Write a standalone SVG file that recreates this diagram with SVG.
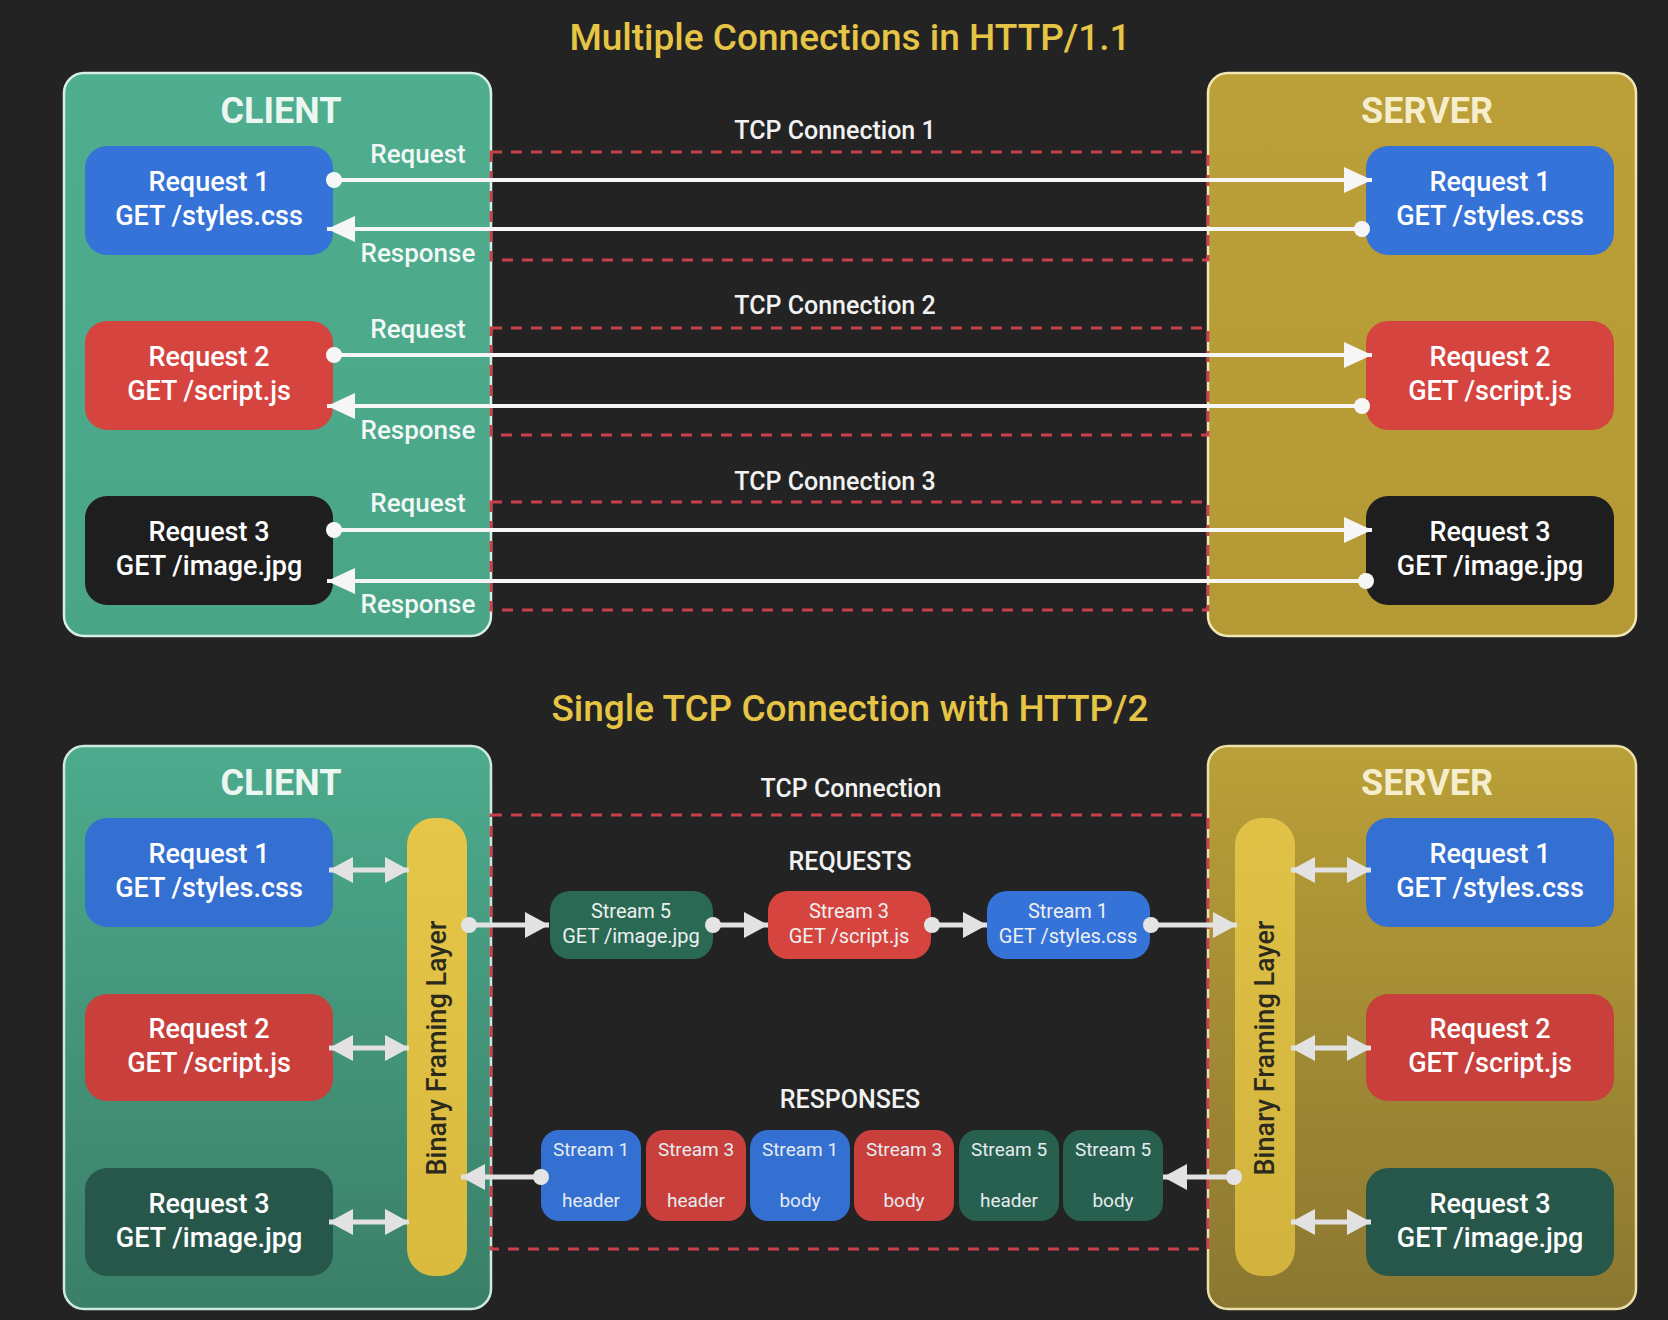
<svg xmlns="http://www.w3.org/2000/svg" width="1668" height="1320" viewBox="0 0 1668 1320">
<defs>
<style>
text{font-family:Roboto,"Liberation Sans",sans-serif;font-weight:500;text-anchor:middle}
.title{font-size:37px;fill:#E6C445}
.hdr{font-size:36px;font-weight:700}
.hc{fill:#ecf7f2}
.hs{fill:#f5edcc}
.bt{font-size:27px;fill:#ffffff}
.lbl{font-size:26px;fill:#f2f8f5}
.tcp{font-size:25px;fill:#f2f2f2}
.st{font-size:20px;fill:#eef0f0;font-weight:400}
.ch{font-size:19px;fill:#e6ecf0;font-weight:400}
.bfl{font-size:27px;fill:#2c2a1c}
.dash{fill:none;stroke:#c8404a;stroke-width:3;stroke-dasharray:11 9}
.wl{stroke:#f6f6f6;stroke-width:4;fill:none}
.gl{stroke:#e2e2e2;stroke-width:5;fill:none}
.dot{fill:#f6f6f6}
.gdot{fill:#e4e4e4}
</style>
<linearGradient id="gC" x1="0" y1="0" x2="0" y2="1"><stop offset="0" stop-color="#4fae8f"/><stop offset="1" stop-color="#4aa587"/></linearGradient>
<linearGradient id="gS" x1="0" y1="0" x2="0" y2="1"><stop offset="0" stop-color="#bb9f38"/><stop offset="1" stop-color="#b59935"/></linearGradient>
<linearGradient id="gC2" x1="0" y1="0" x2="0" y2="1"><stop offset="0" stop-color="#4dab8d"/><stop offset="1" stop-color="#3a7f67"/></linearGradient>
<linearGradient id="gS2" x1="0" y1="0" x2="0" y2="1"><stop offset="0" stop-color="#baa038"/><stop offset="1" stop-color="#8b7731"/></linearGradient>
<linearGradient id="gY" x1="0" y1="0" x2="0" y2="1"><stop offset="0" stop-color="#e5c648"/><stop offset="1" stop-color="#d9b93e"/></linearGradient>
<marker id="ah" markerUnits="userSpaceOnUse" markerWidth="30" markerHeight="28" refX="28" refY="13" orient="auto"><path d="M0,0 L28,13 L0,26 z" fill="#f6f6f6"/></marker>
<marker id="ag" markerUnits="userSpaceOnUse" markerWidth="26" markerHeight="28" refX="24" refY="13" orient="auto-start-reverse"><path d="M0,0 L24,13 L0,26 z" fill="#e2e2e2"/></marker>
</defs>
<rect x="0" y="0" width="1668" height="1320" fill="#232323"/>

<text class="title" x="850" y="50">Multiple Connections in HTTP/1.1</text>
<text class="title" x="850" y="721">Single TCP Connection with HTTP/2</text>

<!-- TOP SECTION -->
<g id="client1">
<rect x="64" y="73" width="427" height="563" rx="20" fill="url(#gC)" stroke="#d8efe6" stroke-width="2.5"/>
<text class="hdr hc" x="281" y="123">CLIENT</text>
</g>
<g id="server1">
<rect x="1208" y="73" width="428" height="563" rx="20" fill="url(#gS)" stroke="#f1e6b5" stroke-width="2.5"/>
<text class="hdr hs" x="1427" y="123">SERVER</text>
</g>

<g id="tcp1">
<rect class="dash" x="491" y="152" width="717" height="108"/>
<text class="tcp" x="835" y="139">TCP Connection 1</text>
</g>
<g id="tcp2">
<rect class="dash" x="491" y="328" width="717" height="107"/>
<text class="tcp" x="835" y="314">TCP Connection 2</text>
</g>
<g id="tcp3">
<rect class="dash" x="491" y="502" width="717" height="108"/>
<text class="tcp" x="835" y="490">TCP Connection 3</text>
</g>

<g id="c1r1"><rect x="85" y="146" width="248" height="109" rx="22" fill="#3673d8"/><text class="bt" x="209" y="191">Request 1</text><text class="bt" x="209" y="225">GET /styles.css</text></g>
<g id="c1r2"><rect x="85" y="321" width="248" height="109" rx="22" fill="#d6443f"/><text class="bt" x="209" y="366">Request 2</text><text class="bt" x="209" y="400">GET /script.js</text></g>
<g id="c1r3"><rect x="85" y="496" width="248" height="109" rx="22" fill="#1e1e1e"/><text class="bt" x="209" y="541">Request 3</text><text class="bt" x="209" y="575">GET /image.jpg</text></g>

<g id="s1r1"><rect x="1366" y="146" width="248" height="109" rx="22" fill="#3673d8"/><text class="bt" x="1490" y="191">Request 1</text><text class="bt" x="1490" y="225">GET /styles.css</text></g>
<g id="s1r2"><rect x="1366" y="321" width="248" height="109" rx="22" fill="#d6443f"/><text class="bt" x="1490" y="366">Request 2</text><text class="bt" x="1490" y="400">GET /script.js</text></g>
<g id="s1r3"><rect x="1366" y="496" width="248" height="109" rx="22" fill="#1e1e1e"/><text class="bt" x="1490" y="541">Request 3</text><text class="bt" x="1490" y="575">GET /image.jpg</text></g>

<g id="labels1">
<text class="lbl" x="418" y="163">Request</text>
<text class="lbl" x="418" y="262">Response</text>
<text class="lbl" x="418" y="338">Request</text>
<text class="lbl" x="418" y="439">Response</text>
<text class="lbl" x="418" y="512">Request</text>
<text class="lbl" x="418" y="613">Response</text>
</g>

<g id="connectors1">
<line class="wl" x1="334" y1="180" x2="1372" y2="180" marker-end="url(#ah)"/>
<circle class="dot" cx="334" cy="180" r="8"/>
<line class="wl" x1="1362" y1="229" x2="327" y2="229" marker-end="url(#ah)"/>
<circle class="dot" cx="1362" cy="229" r="8"/>
<line class="wl" x1="334" y1="355" x2="1372" y2="355" marker-end="url(#ah)"/>
<circle class="dot" cx="334" cy="355" r="8"/>
<line class="wl" x1="1362" y1="406" x2="327" y2="406" marker-end="url(#ah)"/>
<circle class="dot" cx="1362" cy="406" r="8"/>
<line class="wl" x1="334" y1="530" x2="1372" y2="530" marker-end="url(#ah)"/>
<circle class="dot" cx="334" cy="530" r="8"/>
<line class="wl" x1="1366" y1="581" x2="327" y2="581" marker-end="url(#ah)"/>
<circle class="dot" cx="1366" cy="581" r="8"/>
</g>

<!-- BOTTOM SECTION -->
<g id="client2">
<rect x="64" y="746" width="427" height="563" rx="20" fill="url(#gC2)" stroke="#cfe9df" stroke-width="2.5"/>
<text class="hdr hc" x="281" y="795">CLIENT</text>
</g>
<g id="server2">
<rect x="1208" y="746" width="428" height="563" rx="20" fill="url(#gS2)" stroke="#ece0a8" stroke-width="2.5"/>
<text class="hdr hs" x="1427" y="795">SERVER</text>
</g>

<g id="tcpmain">
<rect class="dash" x="491" y="815" width="717" height="434"/>
<text class="tcp" x="851" y="797">TCP Connection</text>
<text class="tcp" x="850" y="870">REQUESTS</text>
<text class="tcp" x="850" y="1108">RESPONSES</text>
</g>

<g id="bflC"><rect x="407" y="818" width="60" height="458" rx="27" fill="url(#gY)"/><text class="bfl" x="437" y="1057" transform="rotate(-90 437 1048)">Binary Framing Layer</text></g>
<g id="bflS"><rect x="1235" y="818" width="60" height="458" rx="27" fill="url(#gY)" opacity="0.9"/><text class="bfl" x="1265" y="1057" transform="rotate(-90 1265 1048)">Binary Framing Layer</text></g>

<g id="c2r1"><rect x="85" y="818" width="248" height="109" rx="22" fill="#3470d2"/><text class="bt" x="209" y="863">Request 1</text><text class="bt" x="209" y="897">GET /styles.css</text></g>
<g id="c2r2"><rect x="85" y="994" width="248" height="107" rx="22" fill="#c83f3b"/><text class="bt" x="209" y="1038">Request 2</text><text class="bt" x="209" y="1072">GET /script.js</text></g>
<g id="c2r3"><rect x="85" y="1168" width="248" height="108" rx="22" fill="#27574a"/><text class="bt" x="209" y="1213" fill="#e4ece8">Request 3</text><text class="bt" x="209" y="1247" fill="#e4ece8">GET /image.jpg</text></g>

<g id="s2r1"><rect x="1366" y="818" width="248" height="109" rx="22" fill="#3470d2"/><text class="bt" x="1490" y="863">Request 1</text><text class="bt" x="1490" y="897">GET /styles.css</text></g>
<g id="s2r2"><rect x="1366" y="994" width="248" height="107" rx="22" fill="#c83f3b"/><text class="bt" x="1490" y="1038">Request 2</text><text class="bt" x="1490" y="1072">GET /script.js</text></g>
<g id="s2r3"><rect x="1366" y="1168" width="248" height="108" rx="22" fill="#27574a"/><text class="bt" x="1490" y="1213" fill="#e4ece8">Request 3</text><text class="bt" x="1490" y="1247" fill="#e4ece8">GET /image.jpg</text></g>

<g id="reqS5"><rect x="550" y="891" width="163" height="68" rx="20" fill="#2a6a55"/><text class="st" x="631" y="918">Stream 5</text><text class="st" x="631" y="943">GET /image.jpg</text></g>
<g id="reqS3"><rect x="768" y="891" width="163" height="68" rx="20" fill="#d6443f"/><text class="st" x="849" y="918">Stream 3</text><text class="st" x="849" y="943">GET /script.js</text></g>
<g id="reqS1"><rect x="987" y="891" width="163" height="68" rx="20" fill="#3673d8"/><text class="st" x="1068" y="918">Stream 1</text><text class="st" x="1068" y="943">GET /styles.css</text></g>

<g id="resp1"><rect x="541" y="1130" width="100" height="91" rx="18" fill="#3470d2"/><text class="ch" x="591" y="1156">Stream 1</text><text class="ch" x="591" y="1207">header</text></g>
<g id="resp2"><rect x="646" y="1130" width="100" height="91" rx="18" fill="#c83f3b"/><text class="ch" x="696" y="1156">Stream 3</text><text class="ch" x="696" y="1207">header</text></g>
<g id="resp3"><rect x="750" y="1130" width="100" height="91" rx="18" fill="#3470d2"/><text class="ch" x="800" y="1156">Stream 1</text><text class="ch" x="800" y="1207">body</text></g>
<g id="resp4"><rect x="854" y="1130" width="100" height="91" rx="18" fill="#c83f3b"/><text class="ch" x="904" y="1156">Stream 3</text><text class="ch" x="904" y="1207">body</text></g>
<g id="resp5"><rect x="959" y="1130" width="100" height="91" rx="18" fill="#27604e"/><text class="ch" x="1009" y="1156">Stream 5</text><text class="ch" x="1009" y="1207">header</text></g>
<g id="resp6"><rect x="1063" y="1130" width="100" height="91" rx="18" fill="#27604e"/><text class="ch" x="1113" y="1156">Stream 5</text><text class="ch" x="1113" y="1207">body</text></g>

<g id="connectors2">
<line class="gl" x1="329" y1="870" x2="409" y2="870" marker-start="url(#ag)" marker-end="url(#ag)"/>
<line class="gl" x1="329" y1="1048" x2="409" y2="1048" marker-start="url(#ag)" marker-end="url(#ag)"/>
<line class="gl" x1="329" y1="1222" x2="409" y2="1222" marker-start="url(#ag)" marker-end="url(#ag)"/>
<line class="gl" x1="1291" y1="870" x2="1371" y2="870" marker-start="url(#ag)" marker-end="url(#ag)"/>
<line class="gl" x1="1291" y1="1048" x2="1371" y2="1048" marker-start="url(#ag)" marker-end="url(#ag)"/>
<line class="gl" x1="1291" y1="1222" x2="1371" y2="1222" marker-start="url(#ag)" marker-end="url(#ag)"/>
<line class="gl" x1="469" y1="925" x2="549" y2="925" marker-end="url(#ag)"/>
<circle class="gdot" cx="469" cy="925" r="8"/>
<line class="gl" x1="713" y1="925" x2="768" y2="925" marker-end="url(#ag)"/>
<circle class="gdot" cx="713" cy="925" r="8"/>
<line class="gl" x1="932" y1="925" x2="987" y2="925" marker-end="url(#ag)"/>
<circle class="gdot" cx="932" cy="925" r="8"/>
<line class="gl" x1="1151" y1="925" x2="1237" y2="925" marker-end="url(#ag)"/>
<circle class="gdot" cx="1151" cy="925" r="8"/>
<line class="gl" x1="541" y1="1177" x2="461" y2="1177" marker-end="url(#ag)"/>
<circle class="gdot" cx="541" cy="1177" r="8"/>
<line class="gl" x1="1234" y1="1177" x2="1163" y2="1177" marker-end="url(#ag)"/>
<circle class="gdot" cx="1234" cy="1177" r="8"/>
</g>
</svg>
